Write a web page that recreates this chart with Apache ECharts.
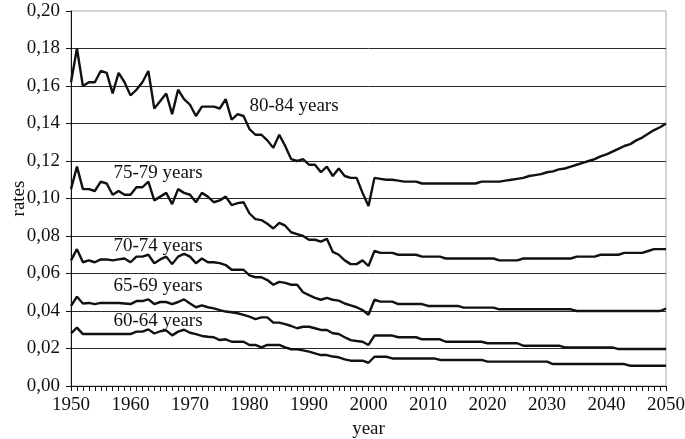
<!DOCTYPE html>
<html>
<head>
<meta charset="utf-8">
<script src="https://cdn.jsdelivr.net/npm/echarts@6/dist/echarts.min.js"></script>
<style>html,body{margin:0;padding:0;background:#fff;}#c{width:685px;height:439px;}</style>
</head>
<body>
<div id="c"></div>
<script>
var startYear = 1950;
var endYear = 2050;
var yTicks = [0, 0.02, 0.04, 0.06, 0.08, 0.10, 0.12, 0.14, 0.16, 0.18, 0.20];
var xTickLabels = [1950, 1960, 1970, 1980, 1990, 2000, 2010, 2020, 2030, 2040, 2050];
var seriesNames = ['80-84 years', '75-79 years', '70-74 years', '65-69 years', '60-64 years'];

var rates8084 = [
  0.162,0.180,0.160,0.162,0.162,0.168,0.167,0.156,0.167,0.162,
  0.155,0.158,0.162,0.168,0.148,0.152,0.156,0.145,0.158,0.153,
  0.150,0.144,0.149,0.149,0.149,0.148,0.153,0.142,0.145,0.144,
  0.137,0.134,0.134,0.131,0.127,0.134,0.128,0.121,0.120,0.121,
  0.118,0.118,0.114,0.117,0.112,0.116,0.112,0.111,0.111,0.103,
  0.096,
  0.111,0.1105,0.110,0.110,0.1095,0.109,0.109,0.109,
  0.108,0.108,0.108,0.108,0.108,0.108,0.108,0.108,0.108,0.108,
  0.109,0.109,0.109,0.109,
  0.1095,0.110,0.1105,0.111,0.112,0.1125,0.113,0.114,0.1145,0.1155,
  0.116,0.117,0.118,0.119,0.120,0.121,0.1225,0.1235,0.125,0.1265,
  0.128,0.129,0.131,0.1325,0.1345,0.1365,0.138,0.140
];
var rates7579 = [
  0.105,0.117,0.105,0.105,0.104,0.109,0.108,0.102,0.104,0.102,
  0.102,0.106,0.106,0.109,0.099,0.101,0.103,0.097,0.105,0.103,
  0.102,0.098,0.103,0.101,0.098,0.099,0.101,0.0965,0.0975,0.098,
  0.092,0.089,0.0885,0.0865,0.084,0.087,0.0855,0.082,0.081,0.080,
  0.078,0.078,0.077,0.0785,0.0715,0.070,0.067,0.065,0.065,0.067,
  0.064,
  0.072,0.071,0.071,0.071,0.070,0.070,0.070,0.070,
  0.069,0.069,0.069,0.069,
  0.068,0.068,0.068,0.068,0.068,0.068,0.068,0.068,0.068,
  0.067,0.067,0.067,0.067,
  0.068,0.068,0.068,0.068,0.068,0.068,0.068,0.068,0.068,
  0.069,0.069,0.069,0.069,0.070,0.070,0.070,0.070,
  0.071,0.071,0.071,0.071,0.072,0.073,0.073,0.073
];
var rates7074 = [
  0.067,0.073,0.066,0.067,0.066,0.0675,0.0675,0.067,0.0675,0.068,
  0.066,0.069,0.069,0.070,0.0655,0.0675,0.069,0.065,0.069,0.0705,
  0.069,0.0655,0.068,0.066,0.066,0.0655,0.0645,0.062,0.062,0.062,
  0.059,0.058,0.058,0.0565,0.054,0.0555,0.055,0.054,0.054,0.050,
  0.0485,0.047,0.046,0.047,0.046,0.0455,0.044,0.043,0.042,0.0405,
  0.038,
  0.046,0.045,0.045,0.045,
  0.0437,0.0437,0.0437,0.0437,0.0437,
  0.0427,0.0427,0.0427,0.0427,0.0427,0.0427,
  0.0418,0.0418,0.0418,0.0418,0.0418,0.0418,
  0.0409,0.0409,0.0409,0.0409,0.0409,0.0409,0.0409,0.0409,0.0409,0.0409,0.0409,0.0409,0.0409,
  0.040,0.040,0.040,0.040,0.040,0.040,0.040,0.040,0.040,0.040,0.040,0.040,0.040,0.040,0.040,
  0.0413
];
var rates6569 = [
  0.0427,0.0476,0.044,0.0443,0.0437,0.0443,0.0443,0.0443,0.0443,0.044,
  0.0437,0.0453,0.0453,0.0462,0.0437,0.0448,0.0448,0.0437,0.0448,0.0462,
  0.044,0.042,0.043,0.042,0.0414,0.0405,0.0397,0.0393,0.0388,0.0379,
  0.037,0.0357,0.0366,0.0366,0.0338,0.0338,0.033,0.032,0.0308,0.0316,
  0.0316,0.0308,0.0299,0.0299,0.0281,0.0277,0.026,0.0245,0.024,0.0236,
  0.0219,
  0.0269,0.0269,0.0269,0.0269,
  0.026,0.026,0.026,0.026,
  0.0249,0.0249,0.0249,0.0249,
  0.0236,0.0236,0.0236,0.0236,0.0236,0.0236,0.0236,
  0.0228,0.0228,0.0228,0.0228,0.0228,0.0228,
  0.0215,0.0215,0.0215,0.0215,0.0215,0.0215,0.0215,
  0.0206,0.0206,0.0206,0.0206,0.0206,0.0206,0.0206,0.0206,0.0206,
  0.0197,0.0197,0.0197,0.0197,0.0197,0.0197,0.0197,0.0197,0.0197
];
var rates6064 = [
  0.0281,0.0311,0.0277,0.0277,0.0277,0.0277,0.0277,0.0277,0.0277,0.0277,
  0.0277,0.029,0.029,0.0302,0.028,0.0292,0.0297,0.027,0.029,0.030,
  0.0284,0.0277,0.0267,0.0263,0.026,0.0245,0.0249,0.0236,0.0236,0.0236,
  0.0219,0.0219,0.0206,0.0219,0.0219,0.0219,0.0206,0.0196,0.0196,0.019,
  0.0183,0.0174,0.0165,0.0165,0.0157,0.0153,0.0142,0.0135,0.0135,0.0135,
  0.0124,
  0.0156,0.0156,0.0156,
  0.0147,0.0147,0.0147,0.0147,0.0147,0.0147,0.0147,0.0147,
  0.0139,0.0139,0.0139,0.0139,0.0139,0.0139,0.0139,0.0139,
  0.013,0.013,0.013,0.013,0.013,0.013,0.013,0.013,0.013,0.013,0.013,
  0.0117,0.0117,0.0117,0.0117,0.0117,0.0117,0.0117,0.0117,0.0117,0.0117,0.0117,0.0117,0.0117,
  0.0108,0.0108,0.0108,0.0108,0.0108,0.0108,0.0108
];

var allRates = [rates8084, rates7579, rates7074, rates6569, rates6064];
var FONT = '"Liberation Serif", "DejaVu Serif", serif';

function pairs(arr) {
  return arr.map(function (v, i) { return [startYear + i, v]; });
}

var chart = echarts.init(document.getElementById('c'), null, { renderer: 'canvas' });
var option = {
  animation: false,
  backgroundColor: '#fff',
  grid: { left: 71, right: 19, top: 11, bottom: 53, show: true, borderColor: '#a8a8a8', borderWidth: 1,
    containLabel: false, outerBoundsMode: 'none' },
  xAxis: {
    type: 'value', min: startYear, max: endYear, interval: 10,
    name: 'year', nameLocation: 'middle', nameGap: 34, nameMoveOverlap: false,
    nameTextStyle: { fontFamily: FONT, fontSize: 19, color: '#111' },
    axisLine: { show: true, lineStyle: { color: '#111', width: 1 } },
    axisTick: { show: true, length: 5, lineStyle: { color: '#111' } },
    minorTick: { show: true, splitNumber: 10, length: 5, lineStyle: { color: '#111' } },
    splitLine: { show: false },
    axisLabel: { fontFamily: FONT, fontSize: 19, color: '#111', margin: 10,
      formatter: function (v) { return xTickLabels.indexOf(v) >= 0 ? String(v) : ''; } }
  },
  yAxis: {
    type: 'value', min: yTicks[0], max: yTicks[yTicks.length - 1], interval: 0.02,
    name: 'rates', nameLocation: 'middle', nameGap: 42, nameRotate: 90, nameMoveOverlap: false,
    nameTextStyle: { fontFamily: FONT, fontSize: 19, color: '#111' },
    axisLine: { show: true, lineStyle: { color: '#111', width: 1 } },
    axisTick: { show: true, length: 5, lineStyle: { color: '#111' } },
    splitLine: { show: true, showMaxLine: false, lineStyle: { color: '#2a2a2a', width: 1 } },
    axisLabel: { fontFamily: FONT, fontSize: 19, color: '#111', margin: 11,
      formatter: function (v) { return v.toFixed(2).replace('.', ','); } }
  },
  series: allRates.map(function (arr, i) {
    return {
      name: seriesNames[i], type: 'line', data: pairs(arr), showSymbol: false, symbol: 'none',
      lineStyle: { color: '#111', width: 2.4 }, z: 3
    };
  }),
  graphic: [
    { type: 'text', x: 294, y: 106, style: { text: seriesNames[0], font: '19px ' + FONT, fill: '#111', textAlign: 'center', textVerticalAlign: 'middle' } },
    { type: 'text', x: 158, y: 173, style: { text: seriesNames[1], font: '19px ' + FONT, fill: '#111', textAlign: 'center', textVerticalAlign: 'middle' } },
    { type: 'text', x: 158, y: 246, style: { text: seriesNames[2], font: '19px ' + FONT, fill: '#111', textAlign: 'center', textVerticalAlign: 'middle' } },
    { type: 'text', x: 158, y: 286, style: { text: seriesNames[3], font: '19px ' + FONT, fill: '#111', textAlign: 'center', textVerticalAlign: 'middle' } },
    { type: 'text', x: 158, y: 321, style: { text: seriesNames[4], font: '19px ' + FONT, fill: '#111', textAlign: 'center', textVerticalAlign: 'middle' } }
  ]
};
chart.setOption(option);
</script>
</body>
</html>
